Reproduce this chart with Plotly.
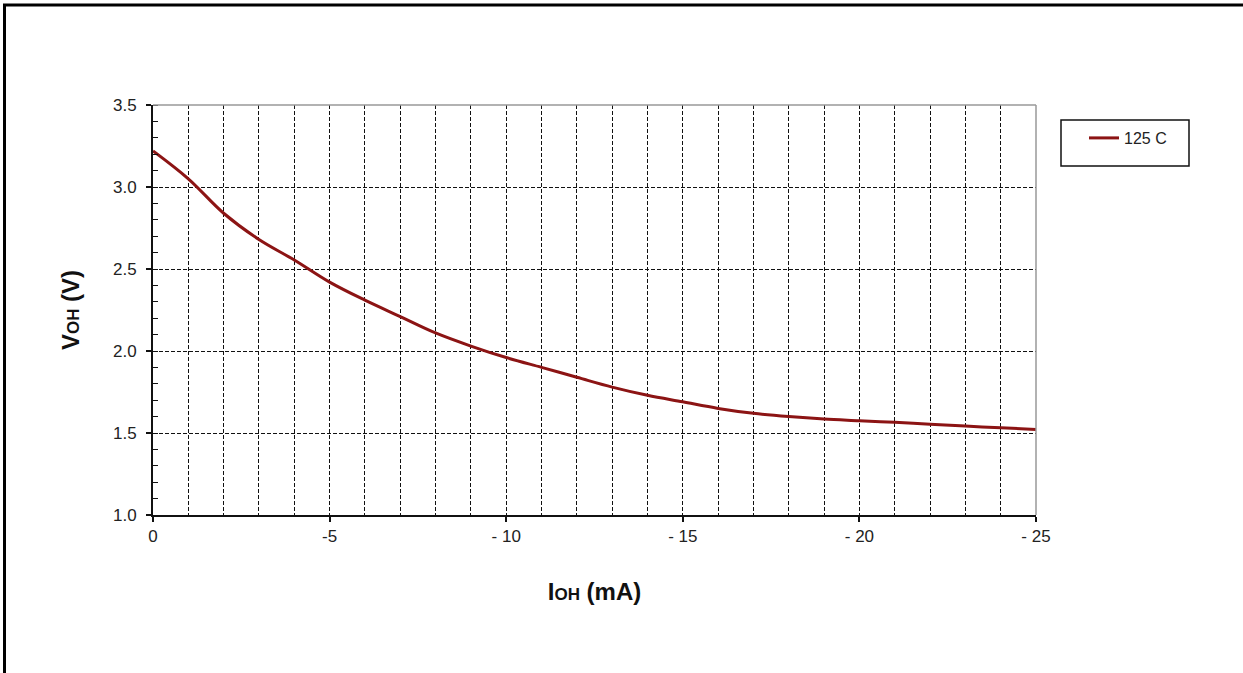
import plotly.graph_objects as go

# Data
ioh_ma = [0, -1, -2, -3, -4, -5, -6, -7, -8, -9, -10, -11, -12, -13, -14, -15,
          -16, -17, -18, -19, -20, -21, -22, -23, -24, -25]
voh_125c = [3.22, 3.05, 2.84, 2.68, 2.555, 2.42, 2.31, 2.21, 2.11, 2.03, 1.96, 1.90,
            1.84, 1.78, 1.73, 1.69, 1.65, 1.62, 1.60, 1.585, 1.575, 1.565, 1.553,
            1.542, 1.532, 1.522]
series_name = "125 C"
x_tick_vals = [0, -5, -10, -15, -20, -25]
x_tick_text = ["0", "-5", "- 10", "- 15", "- 20", "- 25"]
y_tick_vals = [1.0, 1.5, 2.0, 2.5, 3.0, 3.5]
y_tick_text = ["1.0", "1.5", "2.0", "2.5", "3.0", "3.5"]

W, H = 1243, 673
L, R, T, B = 153, 207, 105, 158
pw, ph = W - L - R, H - T - B

def px_x(p):
    return (p - L) / pw

def px_y(p):
    return (H - B - p) / ph

font = "Liberation Sans, Arial, sans-serif"
grid_col = "#111111"
dash = "4px,2px"

fig = go.Figure()
fig.add_trace(go.Scatter(
    x=ioh_ma, y=voh_125c, mode="lines", name=series_name,
    line=dict(color="#8c1414", width=3, shape="spline", smoothing=1.0),
))

fig.update_layout(
    width=W, height=H,
    margin=dict(l=L, r=R, t=T, b=B, autoexpand=False),
    paper_bgcolor="white", plot_bgcolor="white",
    font=dict(family=font, size=16, color="#222"),
    showlegend=True,
    legend=dict(
        x=px_x(1084), y=px_y(121), xanchor="left", yanchor="top",
        borderwidth=0, bgcolor="rgba(0,0,0,0)",
        font=dict(family=font, size=16, color="#222"),
    ),
    xaxis=dict(
        range=[0, -25], autorange=False,
        tickvals=x_tick_vals, ticktext=x_tick_text,
        ticks="outside", ticklen=5, tickcolor="#111", tickwidth=1.5,
        ticklabelstandoff=0,
        showline=True, linecolor="#111", linewidth=2,
        showgrid=True, gridcolor=grid_col, gridwidth=1.3, griddash=dash,
        zeroline=False,
        minor=dict(dtick=1, tick0=0, showgrid=True, gridcolor=grid_col,
                   gridwidth=1.3, griddash=dash, ticks=""),
        title=dict(text="<b>I<span style='font-size:17px'>OH</span> (mA)</b>",
                   font=dict(family=font, size=24, color="#111"), standoff=38),
        tickfont=dict(family=font, size=17, color="#222"),
    ),
    yaxis=dict(
        range=[1.0, 3.5], autorange=False,
        tickvals=y_tick_vals, ticktext=y_tick_text,
        ticks="outside", ticklen=5, tickcolor="#111", tickwidth=1.5,
        ticklabelstandoff=6,
        showline=True, linecolor="#111", linewidth=2,
        showgrid=True, gridcolor=grid_col, gridwidth=1.3, griddash=dash,
        zeroline=False,
        minor=dict(dtick=0.1, tick0=1.0, ticks="inside", ticklen=5,
                   tickcolor="#111", tickwidth=1.3, showgrid=False),
        title=dict(text="<b>V<span style='font-size:17px'>OH</span> (V)</b>",
                   font=dict(family=font, size=24, color="#111"), standoff=27),
        tickfont=dict(family=font, size=17, color="#222"),
    ),
    shapes=[
        # plot-area border (top/right gray)
        dict(type="line", xref="paper", yref="paper", x0=0, x1=1, y0=1, y1=1,
             line=dict(color="#999", width=1.5), layer="above"),
        dict(type="line", xref="paper", yref="paper", x0=1, x1=1, y0=0, y1=1,
             line=dict(color="#999", width=1.5), layer="above"),
        # legend box
        dict(type="rect", xref="paper", yref="paper",
             x0=px_x(1061), x1=px_x(1189), y0=px_y(166), y1=px_y(120),
             line=dict(color="#111", width=1.5), fillcolor="rgba(0,0,0,0)",
             layer="above"),
        # outer frame
        dict(type="rect", xref="paper", yref="paper",
             x0=px_x(4.5), y1=px_y(5), x1=px_x(1300), y0=px_y(720),
             line=dict(color="black", width=3), fillcolor="rgba(0,0,0,0)",
             layer="above"),
    ],
)

fig.write_html("out.html", config={"displayModeBar": False},
               post_script="document.body.style.margin='0';")
